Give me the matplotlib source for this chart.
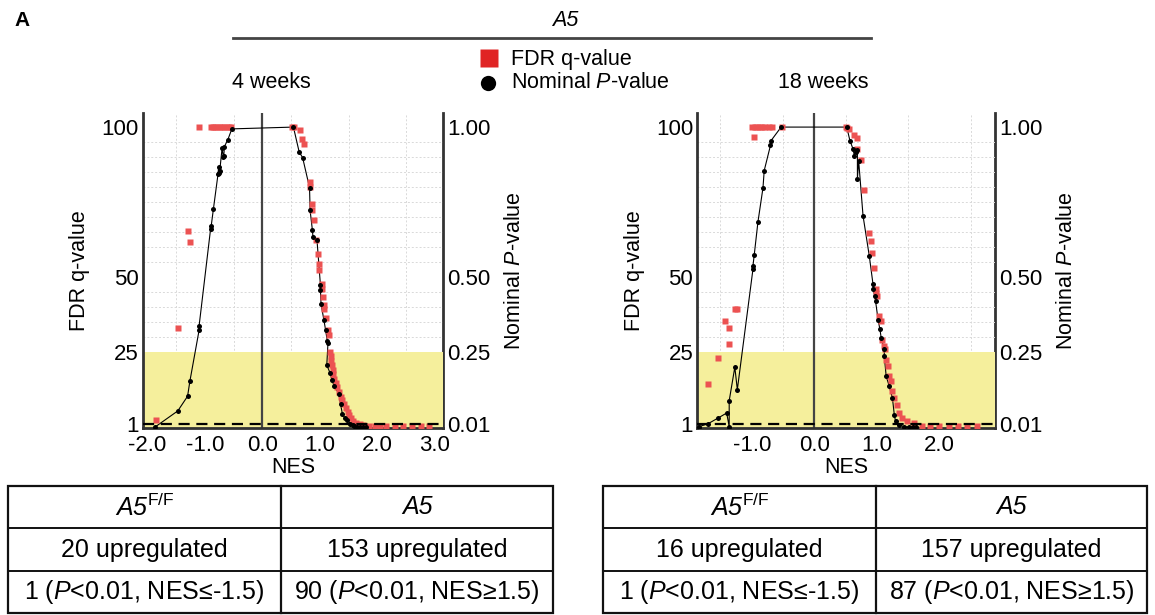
import matplotlib
matplotlib.use("Agg")
import matplotlib.pyplot as plt
from matplotlib.patches import Rectangle
import numpy as np

plt.rcParams['font.family'] = ['Liberation Sans', 'DejaVu Sans']
plt.rcParams['mathtext.fontset'] = 'custom'
plt.rcParams['mathtext.rm'] = 'Liberation Sans'
plt.rcParams['mathtext.it'] = 'Liberation Sans:italic'
plt.rcParams['mathtext.bf'] = 'Liberation Sans:bold'

# ---- 4 weeks: black = nominal P-value (x100), red = FDR q-value (%) ----
w4_black_nes = [-1.86, -1.47, -1.30, -1.26, -1.10, -1.10, -0.90, -0.89, -0.85, -0.77, -0.76,
                -0.75, -0.74, -0.70, -0.68, -0.67, -0.66, -0.60, -0.53,
                0.54, 0.64, 0.70, 0.82, 0.83, 0.87, 0.88, 0.95, 1.01, 1.01, 1.02, 1.07, 1.10,
                1.13, 1.14, 1.12, 1.18, 1.21, 1.25, 1.33, 1.36, 1.39, 1.43, 1.47, 1.53, 1.57,
                1.60, 1.65, 1.70, 1.75, 1.80]
w4_black_p = [0.0, 5.3, 10.2, 15.2, 32.2, 33.6, 66.0, 66.9, 72.8, 84.4, 86.7,
              84.7, 85.5, 93.0, 90.0, 90.5, 93.5, 95.8, 99.4,
              100.0, 91.7, 89.8, 79.8, 72.2, 65.6, 63.3, 62.2, 47.2, 45.6, 41.0, 35.6, 32.2,
              28.5, 27.8, 20.6, 17.8, 15.6, 13.5, 11.1, 7.5, 4.4, 3.0, 2.2, 1.1, 0.5,
              0.2, 0.1, 0.0, 0.0, 0.0]
w4_red_nes = [-1.85, -1.47, -1.30, -1.26, -1.10, -0.90, -0.86, -0.82, -0.78, -0.74, -0.70,
              -0.66, -0.62, -0.58, -0.54,
              0.52, 0.55, 0.65, 0.69, 0.72, 0.82, 0.83, 0.86, 0.87, 0.89, 0.93, 0.96, 0.98,
              0.99, 1.03, 1.03, 1.05, 1.07, 1.08, 1.11, 1.14, 1.15, 1.18, 1.19, 1.20, 1.21,
              1.22, 1.23, 1.25, 1.28, 1.30, 1.33, 1.36, 1.38, 1.42, 1.45, 1.48, 1.50, 1.54,
              1.58, 1.63, 1.70, 1.75, 1.85, 1.95, 2.05, 2.15, 2.30, 2.45, 2.60, 2.75, 2.90]
w4_red_q = [2.2, 33.0, 65.3, 61.8, 100, 100, 100, 100, 100, 100, 100,
            100, 100, 100, 100,
            100, 100, 98.9, 96.0, 94.4, 81.7, 80.0, 74.4, 72.2, 69.0, 62.2, 57.6, 54.4,
            52.2, 47.8, 46.0, 43.3, 40.5, 39.4, 36.4, 32.2, 30.6, 25.0, 23.5, 22.0, 20.5,
            19.0, 17.5, 16.0, 14.5, 13.3, 11.5, 10.0, 9.0, 7.5, 6.2, 4.8, 3.9, 2.8,
            1.8, 1.2, 0.8, 0.6, 0.3, 0.3, 0.3, 0.3, 0.3, 0.3, 0.3, 0.3, 0.3]

# ---- 18 weeks ----
w18_black_nes = [-1.85, -1.70, -1.54, -1.40, -1.36, -1.36, -1.27, -1.23, -0.98, -0.98, -0.96,
                 -0.90, -0.82, -0.80, -0.70, -0.69, -0.53,
                 0.52, 0.57, 0.62, 0.64, 0.66, 0.69, 0.69, 0.71, 0.78, 0.88, 0.94, 0.94, 0.97,
                 0.98, 1.02, 1.05, 1.07, 1.12, 1.12, 1.15, 1.20, 1.25, 1.28, 1.30, 1.36, 1.44,
                 1.52, 1.58, 1.62]
w18_black_p = [0.0, 1.0, 2.9, 4.6, 0.0, 8.7, 19.9, 12.4, 52.6, 53.7, 57.3,
               68.4, 79.7, 85.5, 93.9, 95.5, 100.0,
               100.0, 95.5, 92.7, 90.5, 91.6, 92.2, 82.7, 88.8, 70.4, 57.0, 47.5, 45.9, 43.6,
               42.0, 35.8, 32.5, 29.7, 25.8, 23.5, 16.9, 13.5, 9.6, 4.0, 1.8, 0.7, 0.0,
               0.0, 0.0, 0.0]
w18_red_nes = [-1.70, -1.54, -1.42, -1.37, -1.36, -1.26, -1.24, -0.96, -0.99, -0.95, -0.91,
               -0.87, -0.83, -0.78, -0.72, -0.68, -0.52,
               0.51, 0.53, 0.55, 0.64, 0.68, 0.69, 0.74, 0.79, 0.87, 0.90, 0.93, 0.96, 0.98,
               0.99, 1.00, 1.03, 1.06, 1.09, 1.11, 1.13, 1.15, 1.18, 1.20, 1.23, 1.25, 1.28,
               1.32, 1.36, 1.41, 1.49, 1.60, 1.73, 1.85, 2.00, 2.15, 2.30, 2.45, 2.60]
w18_red_q = [14.3, 23.0, 35.3, 33.0, 27.7, 39.2, 39.4, 96.7, 100, 100, 100,
             100, 100, 100, 100, 100, 100,
             100, 99.7, 99.5, 97.2, 96.3, 92.7, 89.0, 79.0, 64.8, 62.0, 58.1, 52.9, 45.9,
             44.5, 43.6, 37.0, 35.3, 29.1, 27.0, 25.8, 22.4, 20.2, 16.9, 15.2, 11.8, 9.6,
             7.4, 4.6, 2.9, 2.1, 1.2, 0.4, 0.3, 0.3, 0.3, 0.3, 0.3, 0.3]

q_ticks = [1, 25, 50, 100]
p_ticks = [0.01, 0.25, 0.50, 1.00]
w4_xticks = [-2, -1, 0, 1, 2, 3]
w18_xticks = [-1, 0, 1, 2]

header = "A5"
legend_labels = ["FDR q-value", "Nominal $\\mathit{P}$-value"]
period_labels = ["4 weeks", "18 weeks"]
# first row is italic (gene names), the F/F superscript stays upright
w4_table = [["A5$^{\\mathrm{F/F}}$", "A5"],
            ["20 upregulated", "153 upregulated"],
            ["1 ($\\mathit{P}$<0.01, NES≤-1.5)", "90 ($\\mathit{P}$<0.01, NES≥1.5)"]]
w18_table = [["A5$^{\\mathrm{F/F}}$", "A5"],
             ["16 upregulated", "157 upregulated"],
             ["1 ($\\mathit{P}$<0.01, NES≤-1.5)", "87 ($\\mathit{P}$<0.01, NES≥1.5)"]]

RED = "#ec5252"
YELLOW = "#f5ef9c"
SPINE = "#333333"
W, H = 1155, 615
TICK_FS = 16
LABEL_FS = 15.5
TABLE_FS = 18

fig = plt.figure(figsize=(W / 100, H / 100), dpi=100)


def panel(rect, black_nes, black_p, red_nes, red_q, xlim, xticks):
    ax = fig.add_axes(rect)
    ax.set_xlim(*xlim)
    ax.set_ylim(-0.4, 104.7)
    ax.axhspan(-0.4, 25, color=YELLOW, zorder=1, lw=0)
    ax.set_xticks(np.arange(-1.5, 3.0, 1.0), minor=True)
    ax.set_yticks(np.arange(5, 101, 5), minor=True)
    ax.grid(which='minor', color='#d9d9d9', ls=(0, (2, 2)), lw=0.7, zorder=0)
    ax.grid(which='major', visible=False)
    ax.set_axisbelow(True)
    ax.axvline(0, color='#444444', lw=1.6, zorder=2)
    ax.axhline(1, color='black', lw=1.6, ls=(0, (5, 3)), zorder=6)
    ax.plot(black_nes, black_p, color='black', lw=0.8, zorder=3)
    ax.plot(red_nes, red_q, 's', color=RED, ms=5, mec='none', zorder=4)
    ax.plot(black_nes, black_p, 'o', color='black', ms=3.6, mec='none', zorder=5)
    ax.set_xticks(xticks)
    ax.set_xticklabels([f"{v:.1f}" for v in xticks])
    ax.set_yticks(q_ticks)
    ax.set_yticklabels([str(v) for v in q_ticks])
    ax.tick_params(axis='y', which='both', length=0, labelsize=TICK_FS, pad=3)
    ax.tick_params(axis='x', which='both', length=0, labelsize=TICK_FS, pad=5)
    ax.set_xlabel("NES", fontsize=LABEL_FS, labelpad=1)
    ax.set_ylabel("FDR q-value", fontsize=LABEL_FS, labelpad=8)
    for s in ['left', 'bottom']:
        ax.spines[s].set_linewidth(2)
        ax.spines[s].set_color(SPINE)
    ax.spines['top'].set_visible(False)
    ax.spines['right'].set_visible(False)
    sec = ax.secondary_yaxis('right', functions=(lambda q: q / 100, lambda p: p * 100))
    sec.set_yticks(p_ticks)
    sec.set_yticklabels([f"{v:.2f}" for v in p_ticks])
    sec.tick_params(length=0, labelsize=TICK_FS, pad=3)
    sec.spines['right'].set_linewidth(2)
    sec.spines['right'].set_color(SPINE)
    sec.set_ylabel("Nominal $\\mathit{P}$-value", fontsize=LABEL_FS, labelpad=10)
    return ax


def fx(px):
    return px / W


def fy(py):
    return 1 - py / H


panel([fx(142.7), fy(428), fx(443 - 142.7), (428 - 113) / H],
      w4_black_nes, w4_black_p, w4_red_nes, w4_red_q, (-2.08, 3.14), w4_xticks)
panel([fx(697.3), fy(428), fx(995 - 697.3), (428 - 113) / H],
      w18_black_nes, w18_black_p, w18_red_nes, w18_red_q, (-1.87, 2.89), w18_xticks)

# overlay in pixel coordinates for header, legend and tables
ov = fig.add_axes([0, 0, 1, 1])
ov.set_xlim(0, W)
ov.set_ylim(H, 0)
ov.axis('off')

ov.text(14, 20, "A", fontsize=15, fontweight='bold', va='center', ha='left')
ov.text(565, 20, header, fontsize=LABEL_FS, fontstyle='italic', va='center', ha='center')
ov.plot([233, 871], [38, 38], color='#444444', lw=2)

ov.plot([489], [58], 's', color='#e02424', ms=12.5, mec='none')
ov.plot([488], [83], 'o', color='black', ms=11, mec='none')
ov.text(511, 59, legend_labels[0], fontsize=LABEL_FS, va='center', ha='left')
ov.text(511, 83, legend_labels[1], fontsize=LABEL_FS, va='center', ha='left')
ov.text(232, 82, period_labels[0], fontsize=LABEL_FS, va='center', ha='left')
ov.text(868, 82, period_labels[1], fontsize=LABEL_FS, va='center', ha='right')


def table(x0, xs, x1, cells):
    rows = [486, 528, 571, 613]
    ov.add_patch(Rectangle((x0, rows[0]), x1 - x0, rows[-1] - rows[0],
                           fill=False, ec='#111111', lw=1.6))
    for r in rows[1:-1]:
        ov.plot([x0, x1], [r, r], color='#111111', lw=1.4)
    ov.plot([xs, xs], [rows[0], rows[-1]], color='#111111', lw=1.6)
    for i, row in enumerate(cells):
        yc = (rows[i] + rows[i + 1]) / 2
        style = 'italic' if i == 0 else 'normal'
        ov.text((x0 + xs) / 2, yc, row[0], fontsize=TABLE_FS, fontstyle=style,
                ha='center', va='center')
        ov.text((xs + x1) / 2, yc, row[1], fontsize=TABLE_FS, fontstyle=style,
                ha='center', va='center')


table(8, 281, 553, w4_table)
table(603, 876, 1147, w18_table)

fig.savefig("out.png", dpi=100)
